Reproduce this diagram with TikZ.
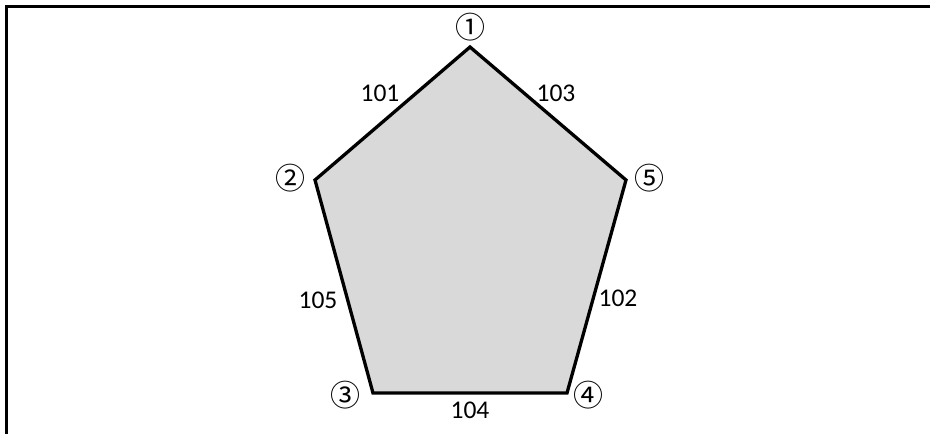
\documentclass[tikz,border=0pt]{standalone}
\usepackage{fontspec}
\setmainfont{Carlito}
\newfontfamily\circfont{Noto Sans CJK JP}
\begin{document}
\begin{tikzpicture}[x=1pt,y=-1pt,
  edge/.style={line width=3.3pt,line join=miter},
  vlab/.style={font=\circfont\fontsize{30}{30}\selectfont,inner sep=0pt},
  elab/.style={font=\fontsize{25.5}{25.5}\selectfont,inner sep=0pt}]
\useasboundingbox (0,0) rectangle (930,434);
\draw[line width=3pt] (6,434) -- (6,6) -- (930,6);
\coordinate (p1) at (470,47);
\coordinate (p2) at (315,180);
\coordinate (p3) at (373,393);
\coordinate (p4) at (567,393);
\coordinate (p5) at (626,180);
\filldraw[edge,fill=black!15] (p1) -- (p2) -- (p3) -- (p4) -- (p5) -- cycle;
\node[vlab] (l1) at (470,27) {①};
\node[vlab] (l2) at (290,178) {②};
\node[vlab] (l3) at (345,395) {③};
\node[vlab] (l4) at (588,395) {④};
\node[vlab] (l5) at (649,178) {⑤};
\node[elab] (e101) at (380,93) {101};
\node[elab] (e103) at (556,93) {103};
\node[elab] (e105) at (318,300) {105};
\node[elab] (e102) at (618,298) {102};
\node[elab] (e104) at (470,410) {104};
\end{tikzpicture}
\end{document}
